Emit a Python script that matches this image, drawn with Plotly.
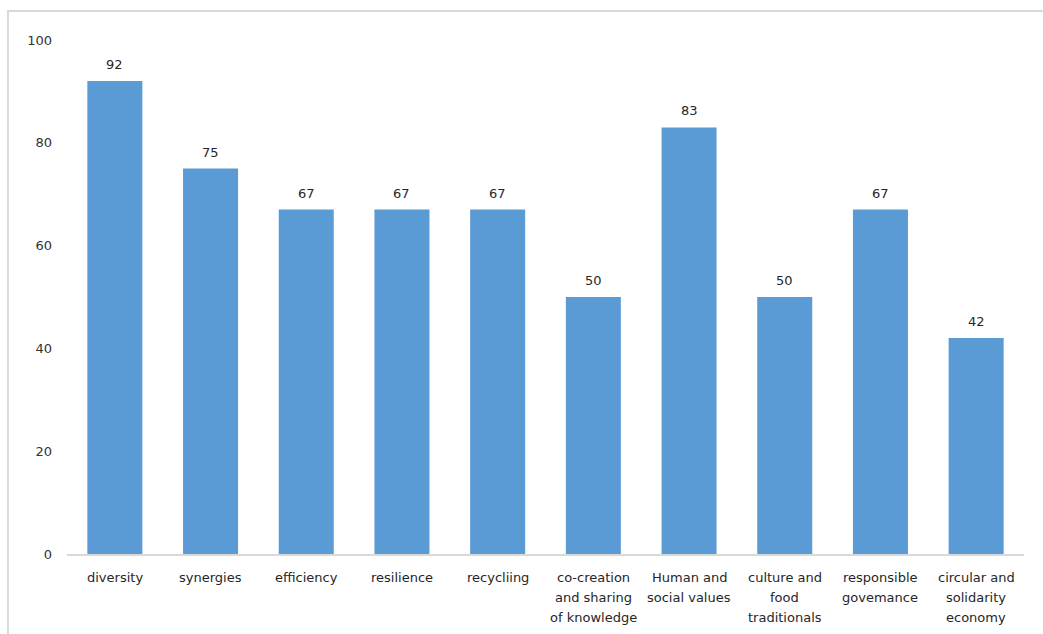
import plotly.graph_objects as go

categories = [
    "diversity", "synergies", "efficiency", "resilience", "recycliing",
    "co-creation and sharing of knowledge", "Human and social values",
    "culture and food traditionals", "responsible govemance",
    "circular and solidarity economy",
]
# wrapped form of each category label, one list entry per text line
label_lines = [
    ["diversity"], ["synergies"], ["efficiency"], ["resilience"], ["recycliing"],
    ["co-creation", "and sharing", "of knowledge"], ["Human and", "social values"],
    ["culture and", "food", "traditionals"], ["responsible", "govemance"],
    ["circular and", "solidarity", "economy"],
]
values = [92, 75, 67, 67, 67, 50, 83, 50, 67, 42]
y_ticks = [0, 20, 40, 60, 80, 100]

FONT = "DejaVu Sans"
TEXT_COLOR = "#262626"
TICK_COLOR = "#333333"
BAR_COLOR = "#5B9BD5"
FONT_SIZE = 13

fig = go.Figure(
    go.Bar(
        x=categories,
        y=values,
        marker=dict(color=BAR_COLOR, line=dict(width=0)),
        hoverinfo="skip",
    )
)

# value labels above each bar
for cat, val in zip(categories, values):
    fig.add_annotation(
        x=cat, y=val, text=str(val), showarrow=False,
        yanchor="bottom", yshift=7,
        font=dict(family=FONT, size=FONT_SIZE, color=TEXT_COLOR),
    )

# category labels under the axis, with wider line spacing
for cat, lines in zip(categories, label_lines):
    for i, line in enumerate(lines):
        fig.add_annotation(
            x=cat, y=0, text=line, showarrow=False,
            yanchor="middle", yshift=-(23 + 20 * i),
            font=dict(family=FONT, size=FONT_SIZE, color=TEXT_COLOR),
        )

# thin frame around the chart area
fig.add_shape(
    type="rect", xref="paper", yref="paper",
    x0=-0.0617, x1=1.05, y0=-0.2, y1=1.0564,
    line=dict(color="#d9d9d9", width=2), layer="below",
)

fig.update_layout(
    width=1043, height=634,
    margin=dict(l=67, r=19, t=40, b=80),
    paper_bgcolor="white", plot_bgcolor="white",
    bargap=0.425,
    showlegend=False,
    font=dict(family=FONT, size=FONT_SIZE, color=TEXT_COLOR),
    xaxis=dict(
        showline=True, linecolor="#d9d9d9", linewidth=2,
        ticks="", showticklabels=False, showgrid=False,
    ),
    yaxis=dict(
        range=[0, 100], tickvals=y_ticks, showgrid=False, zeroline=False,
        showline=False, ticks="", ticklabelstandoff=14,
        tickfont=dict(family=FONT, size=FONT_SIZE, color=TICK_COLOR),
    ),
)

fig.write_html("out.html")
